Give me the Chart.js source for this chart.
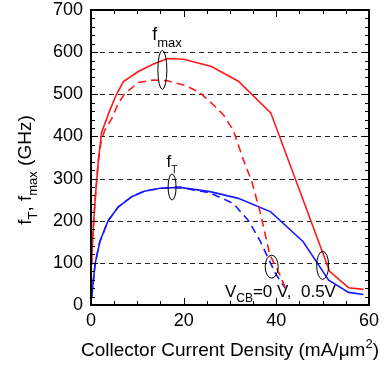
<!DOCTYPE html>
<html>
<head>
<meta charset="utf-8">
<script src="https://cdn.jsdelivr.net/npm/chart.js@4.4.0/dist/chart.umd.min.js"></script>
<style>
  html, body { margin: 0; padding: 0; background: #fff; }
  #wrap { width: 386px; height: 368px; }
</style>
</head>
<body>
<div id="wrap"><canvas id="chart" width="386" height="368"></canvas></div>
<script>
// ===== Data =====
// fmax, VCB = 0.5 V (solid red)
const fmaxX05 = [0.1, 0.5, 1, 1.6, 2.3, 4.1, 5.5, 7.0, 10.2, 13.5, 16.5, 20, 26, 31.8, 38.8, 51.5, 55.6, 58.8];
const fmaxY05 = [95, 185, 265, 344, 410, 463, 500, 530, 554, 572, 585, 583, 566, 531, 456, 80, 41, 37];
// fmax, VCB = 0 V (dashed red)
const fmaxX0 = [0.1, 0.5, 1, 1.6, 2.2, 3.0, 4.5, 5.9, 7.2, 10.2, 13.5, 16.5, 20.3, 23.5, 26.8, 28.6, 30.7, 32.9, 34.7, 36.5, 38.6, 40.8, 42.1];
const fmaxY0 = [95, 185, 265, 344, 390, 415, 443, 479, 500, 528, 534, 532, 521, 504, 471, 451, 415, 344, 293, 221, 119, 71, 36];
// fT, VCB = 0.5 V (solid blue)
const ftX05 = [0.15, 0.9, 1.9, 3.7, 5.9, 8.8, 11.5, 14.9, 19.2, 25.7, 31.8, 38.8, 45.8, 51.3, 55.6, 58.8];
const ftY05 = [20, 99, 150, 200, 233, 257, 270, 277, 279, 269, 253, 221, 150, 59, 30, 25];
// fT, VCB = 0 V (dashed blue)
const ftX0 = [0.15, 0.9, 1.9, 3.7, 5.9, 8.8, 11.5, 14.9, 19.2, 25.7, 30.7, 34, 36.5, 39.9, 41.9];
const ftY0 = [20, 99, 150, 200, 233, 257, 270, 277, 279, 266, 241, 200, 152, 73, 40];

// axes
const xTickLabels = [0, 20, 40, 60];
const yTickLabels = [0, 100, 200, 300, 400, 500, 600, 700];
const gridValues = [100, 200, 300, 400, 500, 600];

const FONT = "'Liberation Sans', Arial, Helvetica, sans-serif";

function toPoints(xs, ys) {
  return xs.map((x, i) => ({ x: x, y: ys[i] }));
}

// text runs with sub/superscripts
function richWidth(ctx, parts) {
  let w = 0;
  parts.forEach((p) => {
    ctx.font = p.size + "px " + FONT;
    w += ctx.measureText(p.t).width;
  });
  return w;
}
function drawRich(ctx, parts, x, y) {
  let cx = x;
  parts.forEach((p) => {
    ctx.font = p.size + "px " + FONT;
    ctx.fillText(p.t, cx, y + (p.dy || 0));
    cx += ctx.measureText(p.t).width;
  });
}

// ===== Decorations: dashed grid, inward ticks, frame, ellipses, labels =====
const decor = {
  id: "decor",
  beforeDatasetsDraw(chart) {
    const { ctx, chartArea: a, scales } = chart;
    ctx.save();
    ctx.strokeStyle = "#222";
    ctx.lineWidth = 1;
    ctx.setLineDash([5, 4]);
    gridValues.forEach((v) => {
      const py = Math.round(scales.y.getPixelForValue(v)) + 0.5;
      ctx.beginPath();
      ctx.moveTo(a.left, py);
      ctx.lineTo(a.right, py);
      ctx.stroke();
    });
    ctx.restore();
  },
  afterDraw(chart) {
    const { ctx, chartArea: a, scales } = chart;
    const x = scales.x, y = scales.y;
    ctx.save();
    ctx.strokeStyle = "#000";
    ctx.fillStyle = "#000";

    // ticks
    ctx.lineWidth = 1;
    ctx.beginPath();
    for (let v = 0; v <= 60; v += 5) {
      const px = Math.round(x.getPixelForValue(v)) + 0.5;
      const len = v % 20 === 0 ? 7 : 4;
      ctx.moveTo(px, a.bottom); ctx.lineTo(px, a.bottom - len);
      ctx.moveTo(px, a.top); ctx.lineTo(px, a.top + len);
    }
    for (let v = 0; v <= 700; v += 20) {
      const py = Math.round(y.getPixelForValue(v)) + 0.5;
      const len = v % 100 === 0 ? 7 : 4;
      ctx.moveTo(a.left, py); ctx.lineTo(a.left + len, py);
      ctx.moveTo(a.right, py); ctx.lineTo(a.right - len, py);
    }
    ctx.stroke();

    // frame
    ctx.lineWidth = 2;
    ctx.strokeRect(a.left, a.top, a.right - a.left, a.bottom - a.top);

    // ellipses
    ctx.lineWidth = 1;
    [
      { x: 15.4, y: 558, rx: 4.5, ry: 19.5 },
      { x: 17.5, y: 280, rx: 4, ry: 13 },
      { x: 39.0, y: 91, rx: 6.5, ry: 11.5 },
      { x: 50.0, y: 94, rx: 6, ry: 14 },
    ].forEach((e) => {
      ctx.beginPath();
      ctx.ellipse(x.getPixelForValue(e.x), y.getPixelForValue(e.y), e.rx, e.ry, 0, 0, Math.PI * 2);
      ctx.stroke();
    });

    // curve labels
    ctx.textBaseline = "alphabetic";
    ctx.textAlign = "left";
    drawRich(ctx, [{ t: "f", size: 18 }, { t: "max", size: 13, dy: 7 }],
      x.getPixelForValue(13.2), y.getPixelForValue(629));
    drawRich(ctx, [{ t: "f", size: 17 }, { t: "T", size: 10, dy: 6 }],
      x.getPixelForValue(16.3), y.getPixelForValue(327));
    drawRich(ctx, [{ t: "V", size: 17 }, { t: "CB", size: 12, dy: 5 }, { t: "=0 V,  0.5V", size: 17 }],
      x.getPixelForValue(28.9), y.getPixelForValue(19));

    // x axis title
    const xt = [
      { t: "Collector Current Density (mA/\u03bcm", size: 19 },
      { t: "2", size: 13, dy: -8 },
      { t: ")", size: 19 },
    ];
    const xw = richWidth(ctx, xt);
    drawRich(ctx, xt, (a.left + a.right) / 2 - xw / 2, 356);

    // y axis title
    const yt = [
      { t: "f", size: 19 },
      { t: "T", size: 13, dy: 6 },
      { t: ", f", size: 19 },
      { t: "max", size: 13, dy: 6 },
      { t: " (GHz)", size: 19 },
    ];
    const yw = richWidth(ctx, yt);
    ctx.translate(31, 170 + yw / 2);
    ctx.rotate(-Math.PI / 2);
    drawRich(ctx, yt, 0, 0);
    ctx.restore();
  },
};

// ===== Chart =====
const ctx = document.getElementById("chart").getContext("2d");
new Chart(ctx, {
  type: "scatter",
  data: {
    datasets: [
      { data: toPoints(fmaxX05, fmaxY05), borderColor: "#ff1a1a" },
      { data: toPoints(fmaxX0, fmaxY0), borderColor: "#ff1a1a", borderDash: [8, 5] },
      { data: toPoints(ftX05, ftY05), borderColor: "#1a1aff" },
      { data: toPoints(ftX0, ftY0), borderColor: "#1a1aff", borderDash: [8, 5] },
    ].map((d) => Object.assign(d, {
      showLine: true,
      pointRadius: 0,
      borderWidth: 1.6,
      tension: 0,
      fill: false,
    })),
  },
  options: {
    responsive: false,
    animation: false,
    devicePixelRatio: 1,
    layout: { padding: { left: 0, right: 17, top: 10, bottom: 0 } },
    plugins: { legend: { display: false }, tooltip: { enabled: false } },
    scales: {
      x: {
        type: "linear",
        min: 0,
        max: 60,
        afterBuildTicks: (s) => { s.ticks = xTickLabels.map((v) => ({ value: v })); },
        ticks: { color: "#000", padding: 7, font: { family: FONT, size: 18, lineHeight: 1 } },
        grid: { display: false, drawTicks: false },
        border: { display: false },
        afterFit: (s) => { s.height = 63; },
      },
      y: {
        min: 0,
        max: 700,
        afterBuildTicks: (s) => { s.ticks = yTickLabels.map((v) => ({ value: v })); },
        // small lineHeight so the top label does not push the plot area down
        ticks: { color: "#000", padding: 8, font: { family: FONT, size: 18, lineHeight: 0.2 } },
        grid: { display: false, drawTicks: false },
        border: { display: false },
        afterFit: (s) => { s.width = 91; },
      },
    },
  },
  plugins: [decor],
});
</script>
</body>
</html>
